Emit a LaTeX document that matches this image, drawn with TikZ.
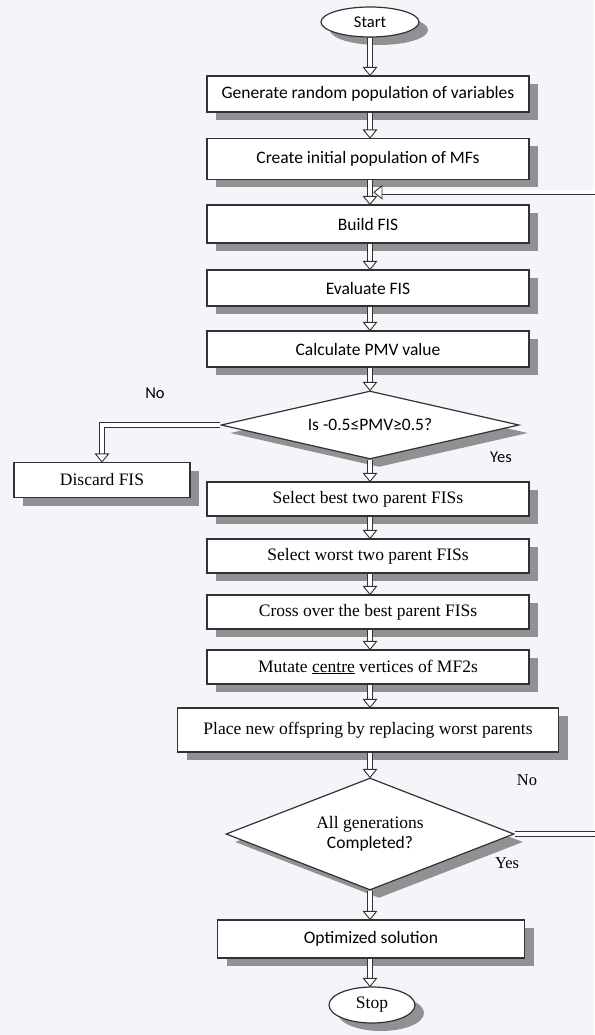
\documentclass[tikz,border=0pt]{standalone}
\usepackage{fontspec}
\setmainfont{Liberation Serif}
\newfontfamily\carl{Carlito}
\usepackage{tikz}
\usetikzlibrary{shapes.geometric,shadows,calc,decorations.markings}
\definecolor{paper}{RGB}{246,244,248}
\definecolor{ink}{RGB}{50,50,54}
\definecolor{shade}{RGB}{145,145,148}

\begin{document}
\begin{tikzpicture}[x=1pt,y=-1pt,
	base/.style={draw=ink, line width=1.2pt, fill=white, inner sep=1pt,
		font=\fontsize{17.5}{20}\selectfont,
		drop shadow={shadow xshift=9pt, shadow yshift=-8pt, fill=shade, opacity=1}},
	box/.style={base, rectangle, minimum width=322pt, minimum height=36pt},
	term/.style={base, ellipse},
	test/.style={base, diamond, align=center, inner sep=0pt},
	flow/.style={draw=ink, line width=0.9pt, double=white, double distance=3.6pt, shorten >=6pt,
		postaction={decorate, decoration={markings, mark=at position 1 with
			{\draw[ink, line width=0.9pt, fill=white, shorten >=0pt] (0,0) -- (-8pt,6.5pt) -- (-8pt,-6.5pt) -- cycle;}}}},
	lbl/.style={font=\fontsize{16.5}{19}\selectfont}]
	\fill[paper] (0,0) rectangle (594,1035);
	\useasboundingbox (0,0) rectangle (594,1035);

	\node[term, minimum width=98pt, minimum height=30pt, inner sep=0pt] (start) at (370,22) {\carl\fontsize{16.5}{18}\selectfont Start};
	\node[box] (gen) at (368,94) {\carl Generate random population of variables};
	\node[box, minimum height=41pt] (mf) at (368,159) {\carl Create initial population of MFs};
	\node[box, minimum height=38pt] (fis) at (368,224) {\carl Build FIS};
	\node[box] (eval) at (368,288) {\carl Evaluate FIS};
	\node[box] (pmv) at (368,349) {\carl Calculate PMV value};
	\node[test, minimum width=298pt, minimum height=68pt, aspect=4.3] (chk) at (370,425) {\carl Is -0.5≤PMV≥0.5?};
	\node[box, minimum width=176pt, minimum height=35pt] (disc) at (102,480) {Discard FIS};
	\node[box, minimum height=34pt] (best) at (368,499) {Select best two parent FISs};
	\node[box, minimum height=34pt] (worst) at (368,556) {Select worst two parent FISs};
	\node[box, minimum height=34pt] (cross) at (368,612) {Cross over the best parent FISs};
	\node[box, minimum height=34pt] (mut) at (368,667) {Mutate \underline{centre} vertices of MF2s};
	\node[box, minimum width=381pt, minimum height=44pt] (place) at (368,730) {Place new offspring by replacing worst parents};
	\node[test, minimum width=288pt, minimum height=112pt, aspect=2.6] (gens) at (370,834) {All generations\\\carl Completed?};
	\node[box, minimum width=307pt, minimum height=38pt] (opt) at (371,939) {\carl Optimized solution};
	\node[term, minimum width=86pt, minimum height=36pt, inner sep=0pt] (stop) at (372,1005) {Stop};

	\foreach \a/\b in {start/gen, gen/mf, mf/fis, fis/eval, eval/pmv, pmv/chk, chk/best, best/worst,
		worst/cross, cross/mut, mut/place, place/gens, gens/opt, opt/stop}
		\draw[flow] (\a.south -| start.south) -- (start.south |- \b.north);
	\draw[flow] (chk.west) -| (disc.north);
	\coordinate (back) at ($(mf.south -| start.south)!0.5!(start.south |- fis.north) + (4,0)$);
	\draw[flow] (gens.east) -- ++(110,0) |- (back);

	\node[lbl] (no1) at (155,393) {\carl No};
	\node[lbl] (yes1) at (501,457) {\carl Yes};
	\node[lbl] (no2) at (527,780) {No};
	\node[lbl] (yes2) at (507,863) {Yes};
\end{tikzpicture}
\end{document}
